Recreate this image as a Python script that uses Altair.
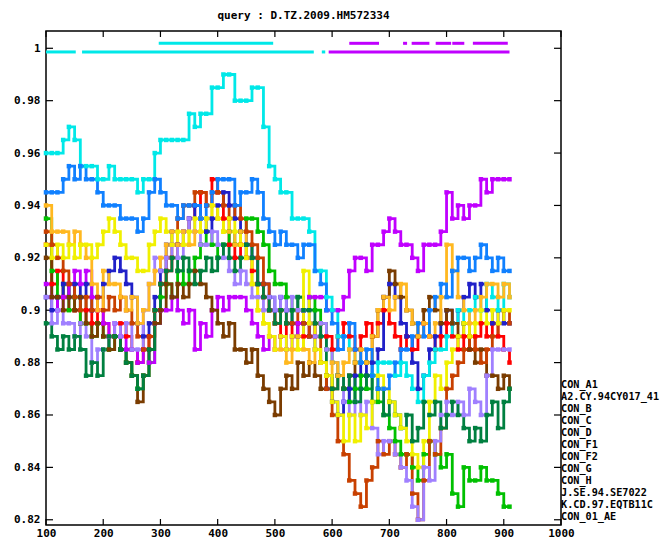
import altair as alt
import pandas as pd

# ---------------- data ----------------
x_positions = list(range(100, 911, 10))

series_names = ["CON_A1", "A2.CY.94CY017_41", "CON_B", "CON_C", "CON_D", "CON_F1",
                "CON_F2", "CON_G", "CON_H", "J.SE.94.SE7022", "K.CD.97.EQTB11C", "CON_01_AE"]
series_colors = ["#ff0000", "#00c000", "#2020c8", "#c000ff", "#00e8e8", "#7a3c00",
                 "#c84000", "#a080ff", "#008040", "#ffb820", "#f0f000", "#1080ff"]

con_a1 = [0.925, 0.91, 0.915, 0.905, 0.91, 0.9, 0.895, 0.9, 0.895, 0.9,
          0.895, 0.89, 0.89, 0.895, 0.89, 0.885, 0.88, 0.885, 0.89, 0.9,
          0.91, 0.915, 0.92, 0.925, 0.93, 0.935, 0.94, 0.945, 0.94, 0.95,
          0.945, 0.935, 0.925, 0.92, 0.925, 0.92, 0.915, 0.91, 0.905, 0.9,
          0.895, 0.89, 0.895, 0.89, 0.895, 0.89, 0.895, 0.89, 0.895, 0.89,
          0.885, 0.89, 0.895, 0.89, 0.885, 0.89, 0.895, 0.89, 0.895, 0.9,
          0.895, 0.89, 0.885, 0.89, 0.885, 0.89, 0.895, 0.89, 0.885, 0.89,
          0.895, 0.89, 0.885, 0.89, 0.885, 0.89, 0.895, 0.89, 0.895, 0.89,
          0.885, 0.88]
a2_cy = [0.935, 0.915, 0.905, 0.91, 0.9, 0.905, 0.895, 0.895, 0.89, 0.895,
         0.89, 0.885, 0.89, 0.885, 0.88, 0.875, 0.87, 0.875, 0.88, 0.895,
         0.905, 0.91, 0.905, 0.915, 0.91, 0.915, 0.92, 0.925, 0.93, 0.925,
         0.92, 0.925, 0.93, 0.925, 0.93, 0.935, 0.935, 0.93, 0.925, 0.915,
         0.91, 0.91, 0.905, 0.9, 0.905, 0.9, 0.905, 0.9, 0.895, 0.885,
         0.88, 0.875, 0.87, 0.865, 0.87, 0.875, 0.87, 0.875, 0.865, 0.86,
         0.855, 0.85, 0.845, 0.845, 0.84, 0.835, 0.845, 0.85, 0.845, 0.84,
         0.845, 0.83, 0.825, 0.84, 0.835, 0.835, 0.84, 0.835, 0.835, 0.83,
         0.825, 0.825]
con_b = [0.905, 0.9, 0.905, 0.91, 0.905, 0.91, 0.905, 0.91, 0.9, 0.905,
         0.91, 0.915, 0.92, 0.915, 0.91, 0.905, 0.895, 0.89, 0.895, 0.905,
         0.915, 0.925, 0.93, 0.925, 0.93, 0.935, 0.94, 0.935, 0.93, 0.935,
         0.94, 0.945, 0.94, 0.935, 0.93, 0.925, 0.92, 0.91, 0.91, 0.905,
         0.9, 0.905, 0.9, 0.895, 0.89, 0.895, 0.89, 0.885, 0.88, 0.87,
         0.865, 0.86, 0.865, 0.87, 0.875, 0.88, 0.875, 0.88, 0.885, 0.905,
         0.91, 0.905, 0.895, 0.89, 0.88, 0.87, 0.875, 0.885, 0.89, 0.895,
         0.9, 0.895, 0.9, 0.905, 0.91, 0.905, 0.91, 0.9, 0.895, 0.9,
         0.895, 0.895]
con_c = [0.91, 0.905, 0.9, 0.905, 0.91, 0.915, 0.91, 0.915, 0.905, 0.9,
         0.895, 0.89, 0.895, 0.89, 0.885, 0.885, 0.88, 0.885, 0.88, 0.895,
         0.9, 0.9, 0.905, 0.9, 0.895, 0.9, 0.885, 0.895, 0.89, 0.9,
         0.905, 0.9, 0.905, 0.905, 0.905, 0.9, 0.895, 0.89, 0.885, 0.89,
         0.885, 0.89, 0.885, 0.89, 0.895, 0.9, 0.905, 0.905, 0.905, 0.9,
         0.9, 0.9, 0.905, 0.915, 0.92, 0.92, 0.915, 0.925, 0.925, 0.93,
         0.935, 0.93, 0.925, 0.925, 0.92, 0.915, 0.925, 0.925, 0.925, 0.93,
         0.945, 0.935, 0.94, 0.935, 0.94, 0.94, 0.95, 0.945, 0.95, 0.95,
         0.95, 0.95]
con_d = [0.96, 0.96, 0.96, 0.965, 0.97, 0.965, 0.955, 0.955, 0.955, 0.95,
         0.95, 0.955, 0.95, 0.95, 0.95, 0.95, 0.945, 0.95, 0.95, 0.96,
         0.965, 0.965, 0.965, 0.965, 0.965, 0.975, 0.97, 0.975, 0.975, 0.985,
         0.985, 0.99, 0.99, 0.98, 0.98, 0.98, 0.985, 0.985, 0.97, 0.955,
         0.95, 0.945, 0.945, 0.935, 0.935, 0.935, 0.93, 0.915, 0.915, 0.905,
         0.9, 0.89, 0.89, 0.885, 0.88, 0.88, 0.88, 0.875, 0.88, 0.88,
         0.88, 0.875, 0.88, 0.875, 0.87, 0.865, 0.875, 0.88, 0.885, 0.885,
         0.89, 0.895, 0.9, 0.895, 0.9, 0.905, 0.9, 0.91, 0.905, 0.9,
         0.91, 0.905]
con_f1 = [0.92, 0.905, 0.905, 0.9, 0.905, 0.9, 0.905, 0.895, 0.89, 0.895,
          0.89, 0.885, 0.89, 0.885, 0.88, 0.875, 0.865, 0.875, 0.885, 0.895,
          0.9, 0.91, 0.905, 0.91, 0.905, 0.91, 0.915, 0.91, 0.905, 0.9,
          0.895, 0.89, 0.895, 0.885, 0.885, 0.88, 0.885, 0.875, 0.87, 0.865,
          0.86, 0.87, 0.875, 0.87, 0.88, 0.875, 0.88, 0.875, 0.87, 0.875,
          0.87, 0.875, 0.87, 0.875, 0.88, 0.885, 0.88, 0.89, 0.9, 0.905,
          0.915, 0.91, 0.905, 0.9, 0.895, 0.89, 0.9, 0.905, 0.9, 0.895,
          0.9, 0.895, 0.89, 0.895, 0.885, 0.88, 0.885, 0.875, 0.875, 0.87,
          0.875, 0.87]
con_f2 = [0.93, 0.925, 0.92, 0.915, 0.91, 0.905, 0.9, 0.905, 0.9, 0.905,
          0.9, 0.905, 0.9, 0.905, 0.9, 0.895, 0.89, 0.885, 0.89, 0.9,
          0.91, 0.92, 0.925, 0.935, 0.94, 0.94, 0.945, 0.945, 0.94, 0.945,
          0.945, 0.94, 0.935, 0.94, 0.935, 0.93, 0.925, 0.92, 0.91, 0.9,
          0.895, 0.9, 0.895, 0.895, 0.9, 0.895, 0.89, 0.895, 0.88, 0.87,
          0.86, 0.85, 0.845, 0.835, 0.83, 0.825, 0.835, 0.84, 0.85, 0.845,
          0.85, 0.845, 0.84, 0.845, 0.83, 0.82, 0.835, 0.85, 0.845, 0.855,
          0.87, 0.875, 0.88, 0.885, 0.89, 0.885, 0.88, 0.885, 0.89, 0.895,
          0.9, 0.895]
con_g = [0.905, 0.895, 0.9, 0.895, 0.895, 0.89, 0.895, 0.89, 0.88, 0.885,
         0.885, 0.89, 0.895, 0.89, 0.895, 0.885, 0.885, 0.9, 0.91, 0.92,
         0.915, 0.92, 0.925, 0.92, 0.93, 0.935, 0.93, 0.925, 0.925, 0.93,
         0.925, 0.92, 0.915, 0.91, 0.915, 0.91, 0.905, 0.905, 0.9, 0.905,
         0.9, 0.905, 0.9, 0.905, 0.9, 0.9, 0.895, 0.89, 0.895, 0.885,
         0.88, 0.875, 0.865, 0.86, 0.865, 0.86, 0.865, 0.855, 0.845, 0.85,
         0.85, 0.845, 0.84, 0.835, 0.825, 0.82, 0.84, 0.835, 0.85, 0.86,
         0.865, 0.86, 0.865, 0.86, 0.87, 0.865, 0.86, 0.875, 0.885, 0.885,
         0.885, 0.885]
con_h = [0.895, 0.89, 0.885, 0.89, 0.885, 0.89, 0.885, 0.875, 0.88, 0.875,
         0.885, 0.89, 0.89, 0.885, 0.88, 0.875, 0.87, 0.875, 0.885, 0.9,
         0.91, 0.915, 0.92, 0.915, 0.92, 0.915, 0.91, 0.915, 0.92, 0.915,
         0.92, 0.925, 0.92, 0.915, 0.92, 0.925, 0.92, 0.91, 0.905, 0.9,
         0.895, 0.9, 0.895, 0.9, 0.905, 0.9, 0.9, 0.895, 0.89, 0.875,
         0.87, 0.875, 0.87, 0.875, 0.865, 0.87, 0.875, 0.865, 0.87, 0.86,
         0.865, 0.86, 0.855, 0.86, 0.85, 0.855, 0.865, 0.86, 0.865, 0.855,
         0.86, 0.865, 0.86, 0.855, 0.85, 0.855, 0.85, 0.86, 0.865, 0.855,
         0.865, 0.87]
j_se = [0.94, 0.93, 0.93, 0.93, 0.925, 0.93, 0.925, 0.92, 0.91, 0.9,
        0.915, 0.91, 0.91, 0.905, 0.9, 0.905, 0.895, 0.9, 0.91, 0.915,
        0.92, 0.925, 0.93, 0.925, 0.93, 0.925, 0.93, 0.935, 0.935, 0.94,
        0.935, 0.93, 0.93, 0.925, 0.93, 0.92, 0.91, 0.9, 0.895, 0.89,
        0.885, 0.885, 0.88, 0.885, 0.89, 0.885, 0.88, 0.885, 0.88, 0.875,
        0.88, 0.875, 0.88, 0.885, 0.88, 0.885, 0.88, 0.89, 0.9, 0.905,
        0.9, 0.905, 0.91, 0.9, 0.895, 0.89, 0.895, 0.89, 0.895, 0.905,
        0.925, 0.915, 0.905, 0.9, 0.895, 0.9, 0.905, 0.91, 0.91, 0.905,
        0.91, 0.905]
k_cd = [0.925, 0.92, 0.925, 0.92, 0.925, 0.92, 0.925, 0.925, 0.92, 0.925,
        0.93, 0.935, 0.93, 0.925, 0.92, 0.92, 0.915, 0.915, 0.925, 0.93,
        0.935, 0.93, 0.925, 0.93, 0.925, 0.93, 0.935, 0.93, 0.935, 0.94,
        0.935, 0.93, 0.935, 0.93, 0.925, 0.92, 0.91, 0.9, 0.895, 0.89,
        0.885, 0.89, 0.885, 0.89, 0.885, 0.915, 0.895, 0.885, 0.88, 0.875,
        0.865, 0.86, 0.85, 0.86, 0.85, 0.86, 0.855, 0.865, 0.875, 0.87,
        0.865, 0.86, 0.855, 0.85, 0.845, 0.84, 0.85, 0.865, 0.875, 0.87,
        0.88, 0.885, 0.89, 0.895, 0.89, 0.895, 0.9, 0.895, 0.9, 0.895,
        0.9, 0.9]
con_01_ae = [0.945, 0.945, 0.945, 0.95, 0.955, 0.95, 0.955, 0.95, 0.95, 0.945,
             0.94, 0.94, 0.94, 0.935, 0.935, 0.935, 0.93, 0.935, 0.945, 0.95,
             0.945, 0.94, 0.94, 0.935, 0.94, 0.94, 0.94, 0.935, 0.94, 0.945,
             0.95, 0.95, 0.95, 0.94, 0.945, 0.945, 0.95, 0.945, 0.935, 0.93,
             0.925, 0.93, 0.925, 0.925, 0.92, 0.925, 0.925, 0.915, 0.91, 0.9,
             0.895, 0.885, 0.89, 0.895, 0.885, 0.88, 0.885, 0.875, 0.87, 0.87,
             0.875, 0.88, 0.885, 0.885, 0.89, 0.895, 0.89, 0.9, 0.905, 0.91,
             0.905, 0.915, 0.92, 0.92, 0.915, 0.92, 0.925, 0.92, 0.915, 0.92,
             0.915, 0.915]

series_values = [con_a1, a2_cy, con_b, con_c, con_d, con_f1,
                 con_f2, con_g, con_h, j_se, k_cd, con_01_ae]

# best-match bars along the top (two rows)
bar_series = ["CON_D", "CON_D", "CON_D", "CON_C",
              "CON_D", "CON_C", "CON_C", "CON_C", "CON_C", "CON_C", "CON_C"]
bar_start = [100, 163, 582, 594, 297, 630, 724, 739, 781, 810, 846]
bar_end = [152, 568, 588, 910, 497, 682, 731, 770, 808, 831, 907]
bar_level = [0.9986, 0.9986, 0.9986, 0.9986, 1.0019, 1.0019, 1.0019,
             1.0019, 1.0019, 1.0019, 1.0019]

x_ticks = [100, 200, 300, 400, 500, 600, 700, 800, 900, 1000]
y_ticks = [0.82, 0.84, 0.86, 0.88, 0.9, 0.92, 0.94, 0.96, 0.98, 1.0]

title_text = "query : D.TZ.2009.HM572334"

# ---------------- tables ----------------
rows = []
for name, vals in zip(series_names, series_values):
    for xp, v in zip(x_positions, vals):
        rows.append({"series": name, "pos": xp, "sim": v})
df = pd.DataFrame(rows)
bars_df = pd.DataFrame({"series": bar_series, "start": bar_start,
                        "end": bar_end, "level": bar_level})
xt_df = pd.DataFrame({"v": x_ticks})
yt_df = pd.DataFrame({"v": y_ticks})
legend_df = pd.DataFrame({"series": series_names})

# ---------------- chart ----------------
PW, PH = 515, 494
FONT = "DejaVu Sans Mono"

x_scale = alt.Scale(domain=[100, 1000], nice=False, zero=False)
y_scale = alt.Scale(domain=[0.818, 1.0066], nice=False, zero=False)
color_scale = alt.Scale(domain=series_names, range=series_colors)

x_axis = alt.Axis(values=x_ticks, title=None, ticks=False, tickSize=0, domain=False,
                  grid=False, labelPadding=2, labelFont=FONT, labelFontSize=11,
                  labelFontWeight="bold", labelColor="black", labelOverlap=False,
                  labelFlush=False, format="d")
y_axis = alt.Axis(values=y_ticks, title=None, ticks=False, tickSize=0, domain=False,
                  grid=False, labelPadding=6, labelFont=FONT, labelFontSize=11,
                  labelFontWeight="bold", labelColor="black", format=".2~f",
                  labelOverlap=False, labelFlush=False)

color_enc = alt.Color("series:N", scale=color_scale, legend=None)

lines = alt.Chart(df).mark_line(interpolate="step-after", strokeWidth=2.8).encode(
    x=alt.X("pos:Q", scale=x_scale, axis=x_axis),
    y=alt.Y("sim:Q", scale=y_scale, axis=y_axis),
    color=color_enc,
)
points = alt.Chart(df).mark_point(shape="square", filled=True, size=20, opacity=1).encode(
    x=alt.X("pos:Q", scale=x_scale, axis=x_axis),
    y=alt.Y("sim:Q", scale=y_scale, axis=y_axis),
    color=color_enc,
)
bars = alt.Chart(bars_df).mark_rule(strokeWidth=3).encode(
    x=alt.X("start:Q", scale=x_scale, axis=x_axis),
    x2="end:Q",
    y=alt.Y("level:Q", scale=y_scale, axis=y_axis),
    color=color_enc,
)
ytick_left = alt.Chart(yt_df).mark_rule(color="black", strokeWidth=1.2).encode(
    y=alt.Y("v:Q", scale=y_scale, axis=y_axis), x=alt.value(0), x2=alt.value(7))
ytick_right = alt.Chart(yt_df).mark_rule(color="black", strokeWidth=1.2).encode(
    y=alt.Y("v:Q", scale=y_scale, axis=y_axis), x=alt.value(PW - 7), x2=alt.value(PW))
xtick_bottom = alt.Chart(xt_df).mark_rule(color="black", strokeWidth=1.2).encode(
    x=alt.X("v:Q", scale=x_scale, axis=x_axis), y=alt.value(PH - 6), y2=alt.value(PH))
xtick_top = alt.Chart(xt_df).mark_rule(color="black", strokeWidth=1.2).encode(
    x=alt.X("v:Q", scale=x_scale, axis=x_axis), y=alt.value(0), y2=alt.value(6))

main = alt.layer(xtick_top, xtick_bottom, ytick_left, ytick_right, lines, points, bars)

legend_text = alt.Chart(legend_df).mark_text(
    align="left", baseline="middle", font=FONT, fontSize=10.2, fontWeight="bold",
    color="black").encode(
    text="series:N",
    x=alt.value(PW),
    y=alt.Y("series:N", sort=series_names,
            scale=alt.Scale(range=[354, 486], padding=0), axis=None),
)

chart = alt.layer(main, legend_text).resolve_scale(y="independent").properties(
    width=PW, height=PH,
    title=alt.TitleParams(title_text, font=FONT, fontSize=11, fontWeight="bold",
                          color="black", anchor="middle", offset=9),
    autosize=alt.AutoSizeParams(type="none"),
    padding={"left": 38, "top": 23, "right": 99, "bottom": 14},
    background="white",
).configure_view(stroke="black", strokeWidth=1.5)

chart.save("out.html", embed_options={"renderer": "svg", "actions": False})
